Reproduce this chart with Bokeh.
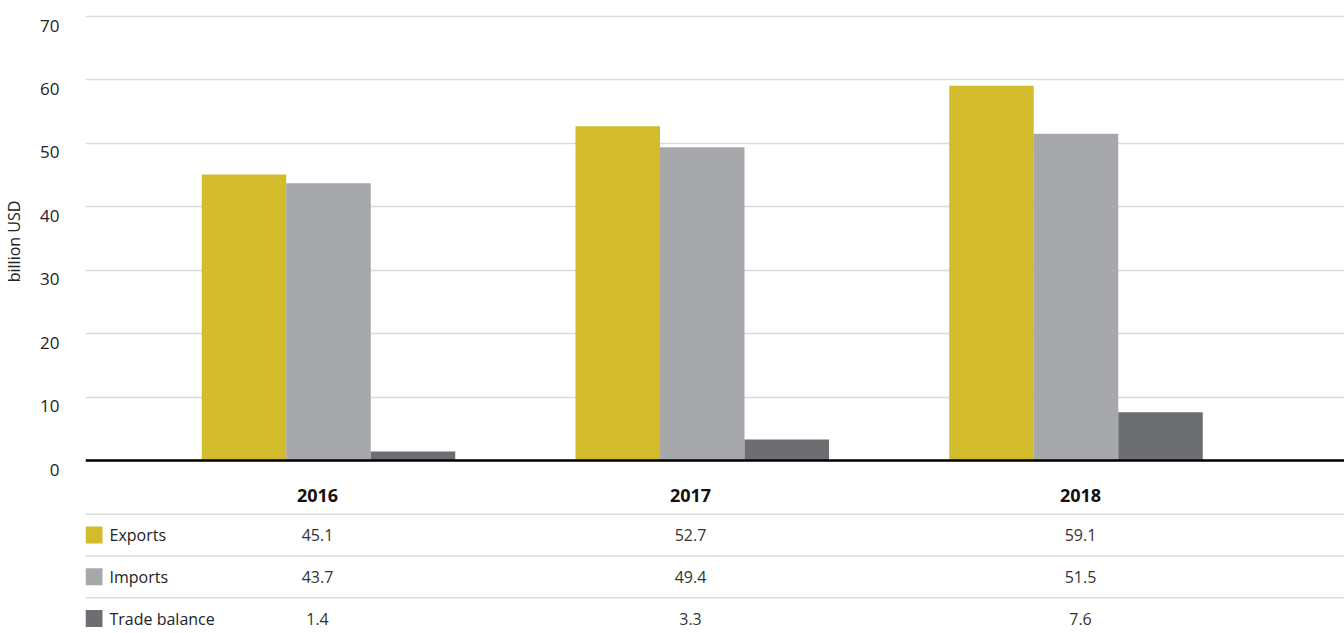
import numpy as np
from bokeh.plotting import figure
from bokeh.layouts import column
from bokeh.models import (Range1d, LinearAxis, FixedTicker, Grid, Span,
                          ColumnDataSource)
from bokeh.core.properties import value
from bokeh.embed import file_html
from bokeh.resources import INLINE

# ---------------- data ----------------
years = ["2016", "2017", "2018"]
series = ["Exports", "Imports", "Trade balance"]
exports = [45.1, 52.7, 59.1]
imports = [43.7, 49.4, 51.5]
trade_balance = [1.4, 3.3, 7.6]
y_ticks = [0, 10, 20, 30, 40, 50, 60, 70]
colors = ["#D2BC2B", "#A7A8AB", "#6D6E72"]

FONT = "Open Sans"
W = 1344
TOP_H = 482
BOT_H = 633 - TOP_H
LEFT = 85

# pixel geometry of the chart
ppu = 444 / 70.0               # pixels per billion USD
y_end = 460 / ppu
y_start = -(TOP_H - 460) / ppu
grp_px = 373.75                # pixels between group centres
first_px = 328.0
x_start = (LEFT - first_px) / grp_px
x_end = (W - first_px) / grp_px
bar_w = 84.5 / grp_px
table_cols_px = [317, 690, 1080]

top = figure(width=W, height=TOP_H, output_backend="svg", toolbar_location=None,
             x_range=Range1d(x_start, x_end), y_range=Range1d(y_start, y_end),
             x_axis_type=None, y_axis_type=None,
             min_border_left=LEFT, min_border_right=0, min_border_top=0,
             min_border_bottom=0, outline_line_color=None,
             background_fill_color="white", border_fill_color="white")

ticker = FixedTicker(ticks=y_ticks)
grid = Grid(dimension=1, ticker=ticker, grid_line_color="#d9d9d9",
            grid_line_width=1.5)
top.add_layout(grid)

# labels slightly below gridlines
shift = 9.0 / ppu
top.extra_y_ranges = {"lab": Range1d(y_start + shift, y_end + shift)}
yax = LinearAxis(y_range_name="lab", ticker=FixedTicker(ticks=y_ticks),
                 axis_label="billion USD")
yax.axis_line_color = None
yax.major_tick_line_color = None
yax.minor_tick_line_color = None
yax.major_label_standoff = 20
yax.major_label_text_font = FONT
yax.major_label_text_font_size = "17px"
yax.major_label_text_color = "#222222"
yax.axis_label_text_font = FONT
yax.axis_label_text_font_size = "16px"
yax.axis_label_text_font_style = "normal"
yax.axis_label_text_color = "#222222"
yax.axis_label_standoff = 12
top.add_layout(yax, "left")

idx = np.arange(len(years))
offsets = [-bar_w, 0.0, bar_w]
for vals, off, col in zip([exports, imports, trade_balance], offsets, colors):
    src = ColumnDataSource(dict(x=idx + off, top=vals))
    top.vbar(x="x", top="top", bottom=0, width=bar_w, source=src,
             fill_color=col, line_color=None)

top.add_layout(Span(location=0, dimension="width", line_color="black",
                    line_width=2.5))

# ---------------- table ----------------
row_px = 41.75
row0 = 534.5 - TOP_H           # local pixel of first data row centre
b_start = (BOT_H - row0) / row_px
b_end = -row0 / row_px
header_row = (495 - 534.5) / row_px
bot = figure(width=W, height=BOT_H, output_backend="svg", toolbar_location=None,
             x_range=Range1d(LEFT, W), y_range=Range1d(b_start, b_end),
             x_axis_type=None, y_axis_type=None,
             min_border_left=LEFT, min_border_right=0, min_border_top=0,
             min_border_bottom=0, outline_line_color=None,
             background_fill_color="white", border_fill_color="white")

# header row (years)
bot.text(x=table_cols_px, y=[header_row] * 3, text=years, text_font=value(FONT),
         text_font_size="18px", text_font_style="bold", text_color="#111111",
         text_align="center", text_baseline="middle")

rows = np.arange(len(series))
bot.segment(x0=[LEFT] * 3, x1=[W] * 3, y0=rows - 0.5, y1=rows - 0.5,
            line_color="#d9d9d9", line_width=1.5)
bot.rect(x=[LEFT + 8.5] * 3, y=rows, width=17, height=17, height_units="screen",
         fill_color=colors, line_color=None)
bot.text(x=[109] * 3, y=rows, text=series, text_font=value(FONT),
         text_font_size="16px", text_color="#222222", text_align="left",
         text_baseline="middle")

table_vals = [exports, imports, trade_balance]
tx, ty, tt = [], [], []
for r, vals in enumerate(table_vals):
    for c, v in enumerate(vals):
        tx.append(table_cols_px[c])
        ty.append(r)
        tt.append(f"{v:.1f}")
bot.text(x=tx, y=ty, text=tt, text_font=value(FONT), text_font_size="16px",
         text_color="#333333", text_align="center", text_baseline="middle")

layout = column(top, bot, spacing=0)
open("out.html", "w").write(file_html(layout, INLINE))
